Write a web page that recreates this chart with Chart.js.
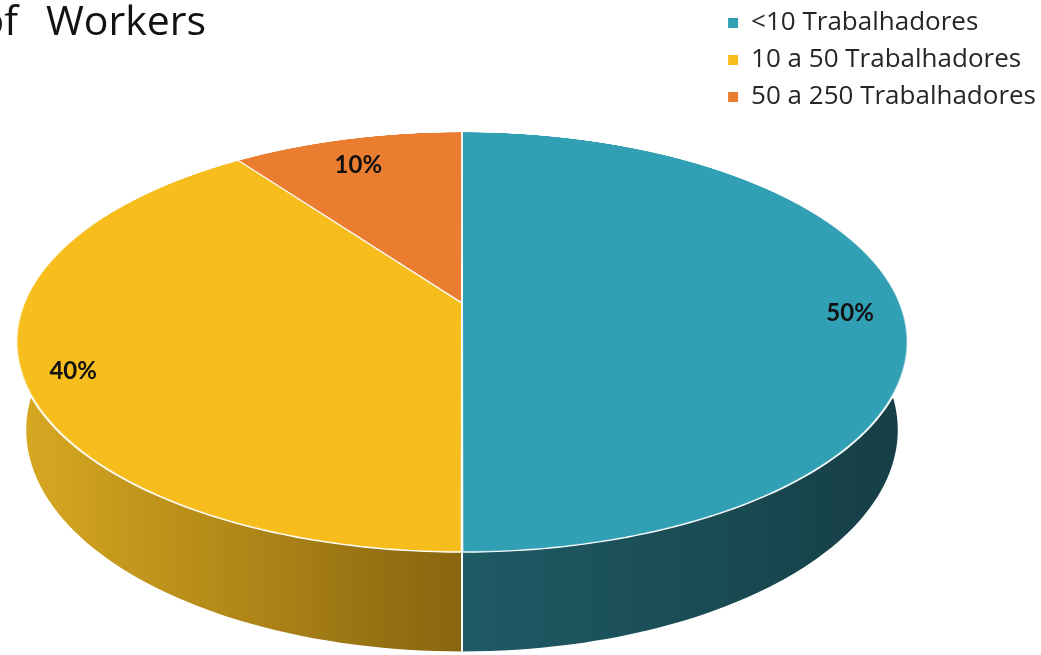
<!DOCTYPE html>
<html lang="en">
<head>
    <meta charset="UTF-8">
    <title>Companies by Number of Workers</title>
    <script src="https://cdn.jsdelivr.net/npm/chart.js"></script>
    <style>
        body { margin: 0; background: #fff; }
        #wrap { position: relative; width: 1041px; height: 655px; overflow: hidden; background: #fff; }
        #face { position: absolute; z-index: 1; }
        #main { position: absolute; left: 0; top: 0; z-index: 2; }
    </style>
</head>
<body>
    <div id="wrap">
        <canvas id="face"></canvas>
        <canvas id="main" width="1041" height="655"></canvas>
    </div>

    <script>
        const title = 'of Workers';
        const categories = ['<10 Trabalhadores', '10 a 50 Trabalhadores', '50 a 250 Trabalhadores'];
        const shares = [50, 40, 10];
        const topColors = ['#319FB4', '#F6BD1C', '#EB7D31'];
        // side wall shading, left (light) end -> right (dark) end
        const wallColors = [['#1F5B66', '#163E45'], ['#D8A921', '#88650F'], ['#C9662A', '#8E4818']];

        // disc geometry: centre on screen, radius, wall depth, tilt and perspective distance
        const CX = 462, CY = 303, R = 438, DEPTH = 100;
        const TILT = 62.42, PERSP = 2090;
        const tiltRad = TILT * Math.PI / 180;

        // same mapping as the CSS perspective()/rotateX() on the face canvas
        function project(u, v, w) {
            const y = v * Math.cos(tiltRad) - w * Math.sin(tiltRad);
            const z = v * Math.sin(tiltRad) + w * Math.cos(tiltRad);
            const k = PERSP / (PERSP - z);
            return { x: CX + u * k, y: CY + y * k };
        }

        function ringPoint(angle, r, w) {
            return project(r * Math.cos(angle), r * Math.sin(angle), w);
        }

        // draws the visible front wall of the disc, below the tilted top face
        const sideWall = {
            id: 'sideWall',
            beforeDatasetsDraw(chart) {
                const ctx = chart.ctx;
                const arcs = chart.getDatasetMeta(0).data;
                ctx.save();

                // clip away the top face area
                ctx.beginPath();
                ctx.rect(0, 0, chart.width, chart.height);
                for (let i = 0; i <= 240; i++) {
                    const p = ringPoint(i / 240 * 2 * Math.PI, R + 1, 0);
                    if (i === 0) ctx.moveTo(p.x, p.y); else ctx.lineTo(p.x, p.y);
                }
                ctx.closePath();
                ctx.clip('evenodd');

                const lo = -Math.PI / 6, hi = Math.PI * 7 / 6;
                arcs.forEach((arc, i) => {
                    const a = Math.max(arc.startAngle, lo);
                    const b = Math.min(arc.endAngle, hi);
                    if (b <= a) return;
                    const top = [], bottom = [];
                    for (let s = 0; s <= 80; s++) {
                        const t = a + (b - a) * s / 80;
                        top.push(ringPoint(t, R, 0));
                        bottom.push(ringPoint(t, R, -DEPTH));
                    }
                    const pts = top.concat(bottom.reverse());
                    const xs = pts.map(p => p.x);
                    const g = ctx.createLinearGradient(Math.min(...xs), 0, Math.max(...xs), 0);
                    g.addColorStop(0, wallColors[i][0]);
                    g.addColorStop(1, wallColors[i][1]);
                    ctx.beginPath();
                    pts.forEach((p, j) => j === 0 ? ctx.moveTo(p.x, p.y) : ctx.lineTo(p.x, p.y));
                    ctx.closePath();
                    ctx.fillStyle = g;
                    ctx.fill();
                });

                // white seams where slices meet on the wall
                ctx.strokeStyle = '#fff';
                ctx.lineWidth = 2;
                arcs.forEach(arc => {
                    const a = arc.startAngle;
                    if (a <= 0 || a >= Math.PI) return;
                    const p1 = ringPoint(a, R, 0), p2 = ringPoint(a, R, -DEPTH);
                    ctx.beginPath();
                    ctx.moveTo(p1.x, p1.y);
                    ctx.lineTo(p2.x, p2.y);
                    ctx.stroke();
                });

                ctx.restore();
                // the flat slices are drawn by the tilted face chart
                return false;
            }
        };

        // title and percentage labels
        const overlayText = {
            id: 'overlayText',
            afterDraw(chart) {
                const ctx = chart.ctx;
                const cut = title.indexOf(' ');
                ctx.save();
                ctx.fillStyle = '#111';
                ctx.font = '41px "Open Sans"';
                ctx.textBaseline = 'alphabetic';
                ctx.textAlign = 'right';
                ctx.fillText(title.slice(0, cut), 18, 35);
                ctx.textAlign = 'left';
                ctx.fillText(title.slice(cut + 1), 46, 35);

                ctx.font = 'bold 24px Lato';
                ctx.textAlign = 'center';
                ctx.textBaseline = 'middle';
                chart.getDatasetMeta(0).data.forEach((arc, i) => {
                    const mid = (arc.startAngle + arc.endAngle) / 2;
                    const p = ringPoint(mid, R * 0.886, 0);
                    ctx.fillText(shares[i] + '%', p.x, p.y + 10);
                });
                ctx.restore();
            }
        };

        // top face: a flat pie, tilted in 3D with CSS
        const faceCanvas = document.getElementById('face');
        const faceSize = 2 * R + 2;
        faceCanvas.width = faceSize;
        faceCanvas.height = faceSize;
        faceCanvas.style.left = (CX - faceSize / 2) + 'px';
        faceCanvas.style.top = (CY - faceSize / 2) + 'px';
        faceCanvas.style.transform = `perspective(${PERSP}px) rotateX(${TILT}deg)`;

        new Chart(faceCanvas, {
            type: 'pie',
            data: {
                labels: categories,
                datasets: [{
                    data: shares,
                    backgroundColor: topColors,
                    borderColor: '#fff',
                    borderWidth: 2
                }]
            },
            options: {
                responsive: false,
                animation: false,
                events: [],
                devicePixelRatio: 2,
                plugins: {
                    legend: { display: false },
                    tooltip: { enabled: false }
                }
            }
        });

        // wall, legend, title and labels
        new Chart(document.getElementById('main'), {
            type: 'pie',
            data: {
                labels: categories,
                datasets: [{
                    data: shares,
                    backgroundColor: topColors,
                    borderWidth: 0
                }]
            },
            options: {
                responsive: false,
                animation: false,
                events: [],
                layout: { padding: { top: -1, right: -5 } },
                plugins: {
                    legend: {
                        position: 'right',
                        align: 'start',
                        labels: {
                            boxWidth: 10,
                            boxHeight: 10,
                            padding: 11,
                            color: '#262626',
                            font: { family: 'Open Sans', size: 26 }
                        }
                    },
                    tooltip: { enabled: false }
                }
            },
            plugins: [sideWall, overlayText]
        });
    </script>
</body>
</html>
